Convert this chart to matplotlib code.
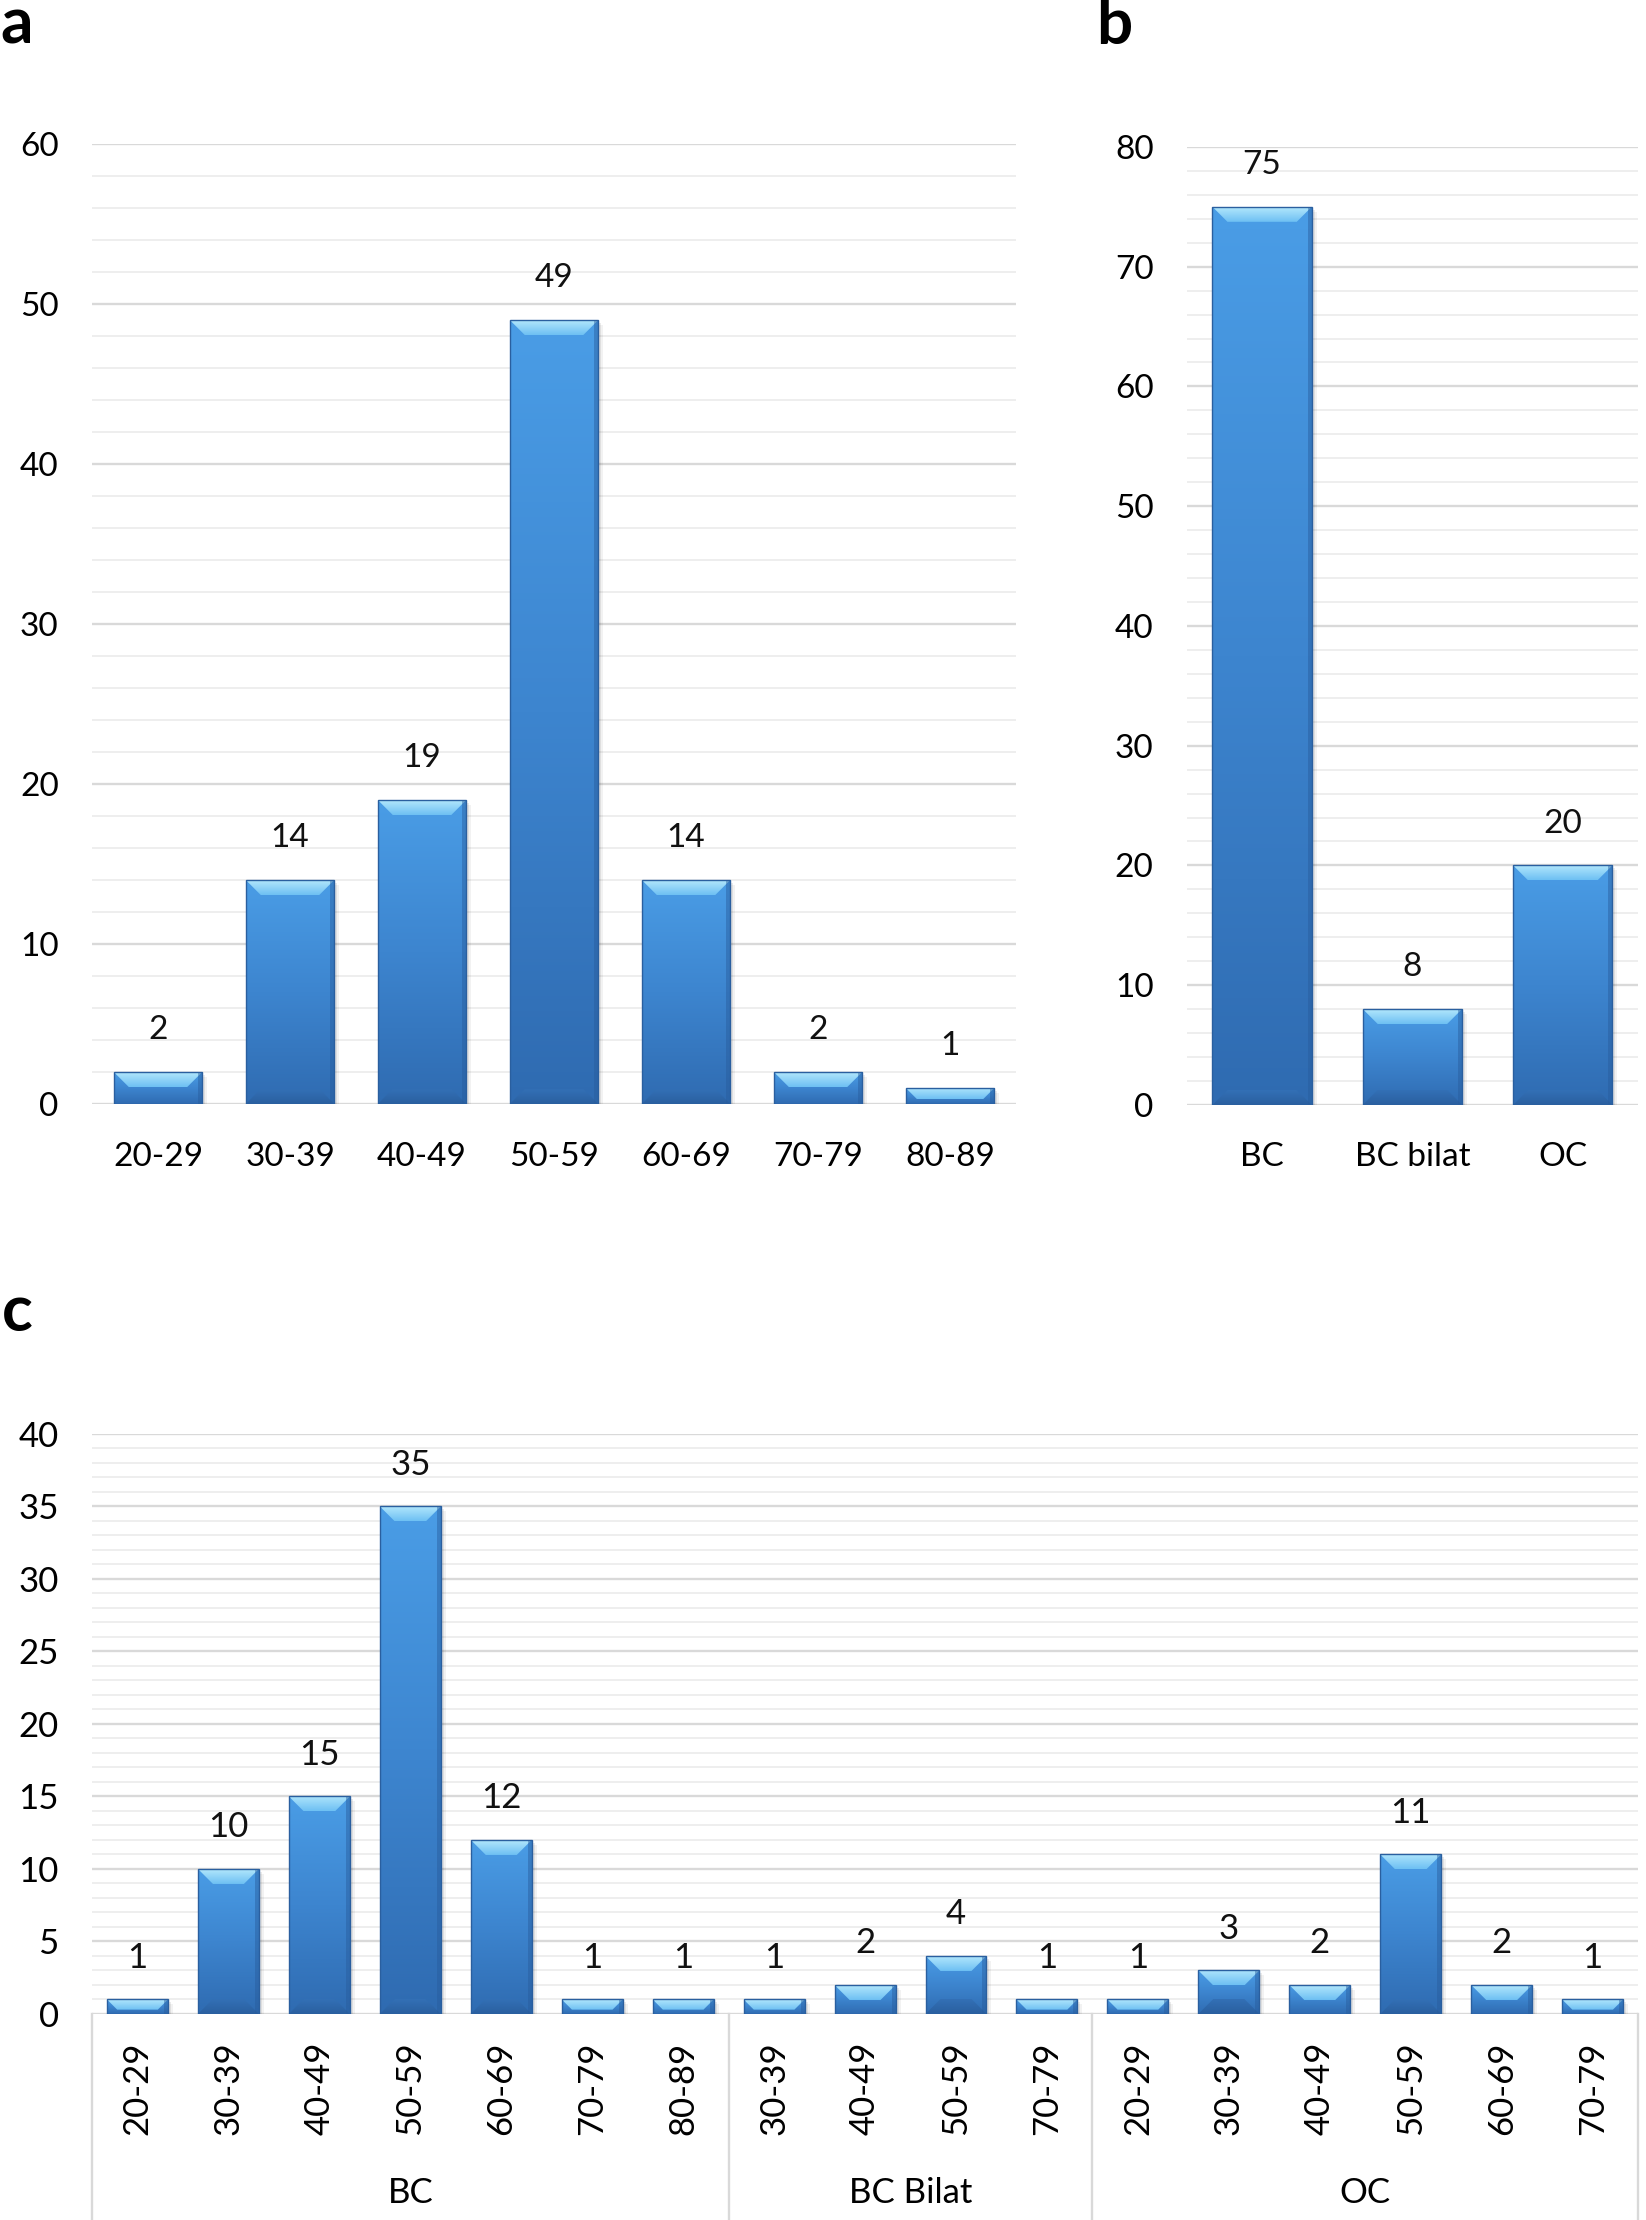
import numpy as np
import matplotlib
matplotlib.use("Agg")
import matplotlib.pyplot as plt
from matplotlib.colors import LinearSegmentedColormap
from matplotlib.patches import Polygon
from matplotlib.lines import Line2D
import matplotlib.transforms as mtransforms

plt.rcParams['font.family'] = ['Lato', 'DejaVu Sans']

# panel a: age at diagnosis
age_groups = ['20-29', '30-39', '40-49', '50-59', '60-69', '70-79', '80-89']
age_counts = [2, 14, 19, 49, 14, 2, 1]

# panel b: cancer type
cancer_types = ['BC', 'BC bilat', 'OC']
cancer_counts = [75, 8, 20]

# panel c: age per cancer type
bc_ages = ['20-29', '30-39', '40-49', '50-59', '60-69', '70-79', '80-89']
bc_counts = [1, 10, 15, 35, 12, 1, 1]
bcb_ages = ['30-39', '40-49', '50-59', '70-79']
bcb_counts = [1, 2, 4, 1]
oc_ages = ['20-29', '30-39', '40-49', '50-59', '60-69', '70-79']
oc_counts = [1, 3, 2, 11, 2, 1]
group_names = ['BC', 'BC Bilat', 'OC']

DPI = 100
body_cmap = LinearSegmentedColormap.from_list('body', ['#2f6bb1', '#3d85cf', '#4a9de6'])
bevel_cmap = LinearSegmentedColormap.from_list('bevel', ['#6ec0f3', '#b2e7fc'])
bottom_cmap = LinearSegmentedColormap.from_list('bot', ['#2a5f9f', '#3370b6'])
GRID_MAJOR = '#d9d9d9'
GRID_MINOR = '#eeeeee'
FS = 24


def bevel_patch(ax, pts_px, cmap, zorder):
    pts = ax.transData.inverted().transform(np.array(pts_px))
    poly = Polygon(pts, closed=True, facecolor='none', edgecolor='none', zorder=zorder)
    ax.add_patch(poly)
    grad = np.linspace(0, 1, 64).reshape(-1, 1)
    ys = pts[:, 1]
    xs = pts[:, 0]
    im = ax.imshow(grad, extent=[xs.min(), xs.max(), ys.min(), ys.max()], origin='lower',
                   cmap=cmap, aspect='auto', zorder=zorder, interpolation='bilinear')
    im.set_clip_path(poly)


def fancy_bars(ax, values, width=0.67, fs=FS):
    x = np.arange(len(values))
    bars = ax.bar(x, values, width=width, color='#4a9de6', edgecolor='none', zorder=3)
    ylo, yhi = ax.get_ylim()
    xlo, xhi = ax.get_xlim()
    grad = np.linspace(0, 1, 256).reshape(-1, 1)
    for b in bars:
        x0, w, h = b.get_x(), b.get_width(), b.get_height()
        # soft shadow
        for k, a in [(5, 0.05), (3, 0.08)]:
            sh = plt.Rectangle((x0, 0), w, h, facecolor='#000000', alpha=a,
                               edgecolor='none', zorder=2,
                               transform=ax.transData + mtransforms.ScaledTranslation(
                                   k / DPI, -k / DPI, ax.figure.dpi_scale_trans))
            ax.add_patch(sh)
        im = ax.imshow(grad, extent=[x0, x0 + w, 0, h], origin='lower', cmap=body_cmap,
                       aspect='auto', zorder=3.5, interpolation='bilinear')
        im.set_clip_path(b)
        # bevels computed in pixel space
        tl = ax.transData.transform((x0, h))
        tr = ax.transData.transform((x0 + w, h))
        bl = ax.transData.transform((x0, 0))
        br = ax.transData.transform((x0 + w, 0))
        hpx = tl[1] - bl[1]
        d = min(15.0, hpx * 0.7)
        bevel_patch(ax, [tl, tr, (tr[0] - d, tr[1] - d), (tl[0] + d, tl[1] - d)],
                    bevel_cmap, 4)
        if hpx > 2 * d + 4:
            bevel_patch(ax, [bl, br, (br[0] - d, br[1] + d), (bl[0] + d, bl[1] + d)],
                        bottom_cmap, 4)
        # darker right side strip
        sx = ax.transData.inverted().transform([(tr[0] - 4, 0), (tr[0], 0)])[:, 0]
        ax.add_patch(plt.Rectangle((sx[0], 0), sx[1] - sx[0], h, facecolor='#285c9c',
                                   alpha=0.45, edgecolor='none', zorder=4.2))
        ol = plt.Rectangle((x0, 0), w, h, facecolor='none', edgecolor='#2a5f9f',
                           linewidth=1.0, zorder=5)
        ax.add_patch(ol)
        ax.annotate(str(int(h)), (x0 + w / 2, h), xytext=(0, 30), textcoords='offset points',
                    ha='center', va='center', fontsize=fs, color='#111111')
    ax.set_xlim(xlo, xhi)
    ax.set_ylim(ylo, yhi)
    return x


def style_axis(ax, ymax, major, minor, n, fs=FS):
    ax.set_xlim(-0.5, n - 0.5)
    ax.set_ylim(0, ymax)
    ax.set_yticks(np.arange(0, ymax + 0.1, major))
    for v in np.arange(0, ymax + 0.1, minor):
        if abs(v / major - round(v / major)) < 1e-6:
            ax.axhline(v, color=GRID_MAJOR, lw=1.7, zorder=1)
        else:
            ax.axhline(v, color=GRID_MINOR, lw=1.4, zorder=1)
    for s in ax.spines.values():
        s.set_visible(False)
    ax.tick_params(axis='y', length=0, pad=24, labelsize=fs)
    ax.tick_params(axis='x', length=0, labelsize=fs)


fig = plt.figure(figsize=(1646 / DPI, 2220 / DPI), dpi=DPI)

# ---- panel a
ax_a = fig.add_axes([0.0559, 0.5027, 0.5614, 0.4324])
style_axis(ax_a, 60, 10, 2, len(age_groups))
xa = fancy_bars(ax_a, age_counts)
ax_a.set_xticks(xa)
ax_a.set_xticklabels(age_groups)
ax_a.tick_params(axis='x', pad=27)

# ---- panel b
ax_b = fig.add_axes([0.7211, 0.5023, 0.274, 0.4315])
style_axis(ax_b, 80, 10, 2, len(cancer_types))
xb = fancy_bars(ax_b, cancer_counts, width=0.66)
ax_b.set_xticks(xb)
ax_b.set_xticklabels(cancer_types)
ax_b.tick_params(axis='x', pad=27)

# ---- panel c
c_labels = bc_ages + bcb_ages + oc_ages
c_counts = bc_counts + bcb_counts + oc_counts
ax_c = fig.add_axes([0.0559, 0.0928, 0.9393, 0.2613])
style_axis(ax_c, 40, 5, 1, len(c_labels), fs=25)
xc = fancy_bars(ax_c, c_counts, fs=25)
ax_c.set_xticks(xc)
ax_c.set_xticklabels(c_labels, rotation=90)
ax_c.tick_params(axis='x', pad=20, labelsize=25)

# group separators and names below the axis
sizes = [len(bc_ages), len(bcb_ages), len(oc_ages)]
bounds = np.concatenate([[0], np.cumsum(sizes)]) - 0.5
trans = mtransforms.blended_transform_factory(ax_c.transData, fig.transFigure)
for b in bounds:
    ax_c.add_line(Line2D([b, b], [0, 0.0928], transform=trans, color=GRID_MAJOR,
                         lw=1.7, clip_on=False))
for name, lo, hi in zip(group_names, bounds[:-1], bounds[1:]):
    ax_c.text((lo + hi) / 2, 0.012, name, transform=trans, ha='center', va='center',
              fontsize=25)

# panel letters
for letter, (fx, fy) in zip('abc', [(0.0103, 0.9887), (0.677, 0.9887), (0.0103, 0.4086)]):
    fig.text(fx, fy, letter, fontsize=46, fontweight='bold', ha='center', va='center')

fig.savefig('out.png', dpi=DPI)
